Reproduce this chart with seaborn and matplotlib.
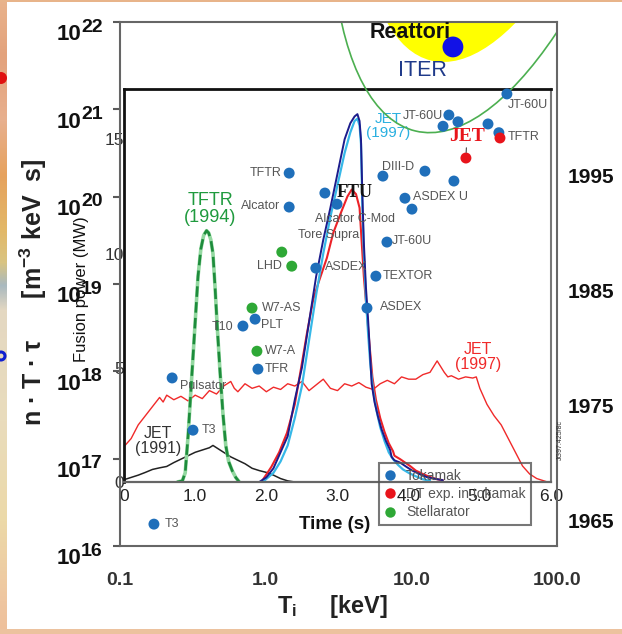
import numpy as np
import pandas as pd
import matplotlib
matplotlib.use("Agg")
import matplotlib.pyplot as plt
import matplotlib.transforms as mtransforms
from matplotlib.patches import Ellipse, Rectangle, Circle
from matplotlib.lines import Line2D
from matplotlib.ticker import NullLocator
import seaborn as sns

# ---------------------------------------------------------------------------
# Lawson diagram: ion temperature Ti (keV) vs triple product n*T*tau (m^-3 keV s)
# ---------------------------------------------------------------------------
tok_ti = [1.45, 1.45, 2.55, 3.09, 2.21, 4.96, 5.71, 6.80, 9.04, 10.1, 6.38, 12.4,
          19.6, 18.1, 16.5, 20.9, 33.6, 39.9, 45.3, 0.228, 0.317, 0.171, 0.698,
          0.846, 0.885]
tok_ntt = [1.86e20, 7.6e19, 1.10e20, 8.2e19, 1.52e19, 5.3e18, 1.23e19, 3.02e19,
           9.6e19, 7.2e19, 1.72e20, 1.96e20, 1.51e20, 8.6e20, 6.4e20, 7.2e20,
           6.8e20, 5.4e20, 1.50e21, 8.4e17, 2.12e17, 1.78e16, 3.3e18, 3.96e18,
           1.06e18]
tok_names = ["TFTR", "Alcator", "FTU", "Alcator C-Mod", "ASDEX", "ASDEX", "TEXTOR",
             "JT-60U", "ASDEX U", "", "DIII-D", "", "", "JT-60U", "", "", "", "",
             "JT-60U", "Pulsator", "T3", "T3", "T10", "PLT", "TFR"]

dt_ti = [40.6, 23.7]
dt_ntt = [4.7e20, 2.77e20]
dt_names = ["TFTR", "JET"]

st_ti = [0.806, 0.871, 1.29, 1.51]
st_ntt = [5.3e18, 1.70e18, 2.32e19, 1.60e19]
st_names = ["W7-AS", "W7-A", "", "LHD"]

iter_ti = [19.3]
iter_ntt = [5.18e21]

kinds = ["Tokamak", "DT exp. in tokamak", "Stellarator"]
x_ticks = [0.1, 1.0, 10.0, 100.0]
x_ticklabels = ["0.1", "1.0", "10.0", "100.0"]
y_exponents = [16, 17, 18, 19, 20, 21, 22]
years = [1965, 1975, 1985, 1995]

# ---------------------------------------------------------------------------
# Fusion power traces (MW) vs time (s)
# ---------------------------------------------------------------------------
tftr94_t = [0.75, 0.82, 0.86, 0.90, 0.95, 1.00, 1.04, 1.08, 1.12, 1.16, 1.19, 1.22,
            1.25, 1.28, 1.31, 1.35, 1.39, 1.43, 1.47, 1.52, 1.57, 1.62]
tftr94_p = [0.0, 0.05, 0.4, 2.0, 4.5, 7.0, 9.0, 10.2, 10.8, 11.0, 10.9, 10.6,
            10.0, 8.5, 6.8, 4.8, 3.0, 1.6, 0.9, 0.5, 0.2, 0.0]

jet91_t = [0.0, 0.1, 0.2, 0.3, 0.4, 0.5, 0.6, 0.7, 0.8, 0.9, 1.0, 1.1, 1.2, 1.25,
           1.3, 1.4, 1.5, 1.6, 1.7, 1.8, 1.9, 2.0, 2.1, 2.2, 2.3, 2.4]
jet91_p = [0.1, 0.2, 0.3, 0.42, 0.55, 0.62, 0.68, 0.85, 1.0, 1.15, 1.3, 1.4, 1.5,
           1.6, 1.5, 1.3, 1.1, 0.95, 0.8, 0.6, 0.5, 0.42, 0.3, 0.15, 0.05, 0.0]

jet97ss_t = [0.0, 0.1, 0.2, 0.3, 0.4, 0.5, 0.55, 0.6, 0.7, 0.8, 0.9, 1.0, 1.1, 1.2,
             1.3, 1.4, 1.5, 1.55, 1.6, 1.7, 1.8, 1.9, 2.0, 2.1, 2.2, 2.3, 2.4, 2.5,
             2.6, 2.7, 2.8, 2.9, 3.0, 3.1, 3.2, 3.3, 3.4, 3.5, 3.6, 3.7, 3.8, 3.9,
             4.0, 4.1, 4.2, 4.3, 4.4, 4.5, 4.55, 4.6, 4.7, 4.8, 4.9, 4.95, 5.0, 5.1,
             5.2, 5.3, 5.4, 5.5, 5.6, 5.7, 5.8, 5.9, 5.95]
jet97ss_p = [1.55, 1.9, 2.5, 2.9, 3.3, 3.7, 3.5, 3.8, 3.6, 3.75, 3.55, 3.8, 3.65,
             4.0, 3.85, 4.2, 4.4, 4.1, 3.95, 4.3, 4.1, 4.2, 3.95, 4.15, 4.05, 4.3,
             4.2, 4.4, 4.0, 4.25, 4.5, 4.1, 4.0, 4.3, 4.2, 4.35, 4.15, 4.05, 4.3,
             4.45, 4.3, 4.6, 4.5, 4.5, 4.7, 4.8, 5.3, 4.8, 4.6, 4.65, 4.5, 4.6,
             4.55, 4.6, 4.1, 3.4, 2.9, 2.5, 1.9, 1.3, 0.7, 0.35, 0.15, 0.05, 0.0]

jet97_navy_t = [1.90, 2.00, 2.10, 2.20, 2.30, 2.40, 2.50, 2.60, 2.70, 2.80, 2.90,
                3.00, 3.10, 3.18, 3.24, 3.28, 3.31, 3.33, 3.35, 3.37, 3.40, 3.43,
                3.45, 3.48, 3.52, 3.57, 3.62, 3.68, 3.74, 3.76, 3.80, 3.88, 3.97,
                4.05, 4.15, 4.25, 4.35, 4.48]
jet97_navy_p = [0.0, 0.2, 0.6, 1.3, 2.0, 3.6, 5.0, 7.0, 9.0, 10.6, 12.0, 13.5,
                15.0, 15.7, 16.0, 16.1, 15.8, 15.0, 12.5, 10.5, 8.5, 7.1, 6.0, 4.3,
                3.5, 2.85, 2.3, 1.8, 1.4, 1.1, 0.95, 0.85, 0.66, 0.5, 0.35, 0.22,
                0.15, 0.08]

jet97_cyan_t = [1.95, 2.1, 2.2, 2.3, 2.4, 2.5, 2.6, 2.7, 2.8, 2.9, 3.0, 3.1, 3.18,
                3.24, 3.28, 3.31, 3.33, 3.35, 3.37, 3.40, 3.43, 3.46, 3.50, 3.55,
                3.60, 3.66, 3.72, 3.78, 3.85, 3.92, 4.0, 4.1, 4.2, 4.3]
jet97_cyan_p = [0.0, 0.4, 0.9, 1.6, 2.8, 4.2, 6.2, 8.2, 10.0, 11.6, 13.0, 14.4,
                15.3, 15.8, 15.9, 15.6, 14.8, 12.0, 10.0, 8.0, 6.5, 5.2, 4.0, 3.1,
                2.4, 1.8, 1.3, 1.0, 0.75, 0.55, 0.4, 0.25, 0.12, 0.05]

jet97_red_t = [1.93, 2.07, 2.18, 2.29, 2.4, 2.5, 2.57, 2.66, 2.73, 2.85, 2.94, 3.05,
               3.14, 3.2, 3.26, 3.31, 3.34, 3.37, 3.41, 3.45, 3.49, 3.54, 3.6, 3.66,
               3.72, 3.78, 3.8, 3.88, 3.95, 4.02, 4.1, 4.2, 4.3, 4.4, 4.48]
jet97_red_p = [0.0, 0.66, 1.3, 2.15, 3.4, 5.2, 6.5, 8.0, 8.7, 9.8, 10.9, 11.8,
               12.5, 12.8, 12.6, 12.0, 10.5, 9.0, 7.5, 6.0, 4.6, 3.6, 2.8, 2.2,
               1.7, 1.35, 1.15, 1.0, 0.85, 0.7, 0.5, 0.35, 0.22, 0.12, 0.08]

time_ticks = [0, 1, 2, 3, 4, 5, 6]
time_ticklabels = ["0", "1.0", "2.0", "3.0", "4.0", "5.0", "6.0"]
power_ticks = [0, 5, 10, 15]

# ---------------------------------------------------------------------------
sns.set_style("white")
plt.rcParams["font.family"] = ["Liberation Sans", "DejaVu Sans"]
plt.rcParams["mathtext.fontset"] = "custom"
plt.rcParams["mathtext.rm"] = "Liberation Sans"
plt.rcParams["mathtext.bf"] = "Liberation Sans:bold"
plt.rcParams["mathtext.it"] = "Liberation Sans:italic"

W_PX, H_PX, DPI = 622, 634, 100
fig = plt.figure(figsize=(W_PX / DPI, H_PX / DPI), dpi=DPI, facecolor="white")


def box(left, top, right, bottom):
    """Axes rectangle from pixel edges measured from the top-left corner."""
    return [left / W_PX, 1 - bottom / H_PX, (right - left) / W_PX, (bottom - top) / H_PX]


# slide frame: coloured strip on the left and thin bands top/bottom
strip_stops = [(0, "#e9b38c"), (55, "#e3a27c"), (120, "#e8b08e"), (175, "#e6a25e"),
               (230, "#e2b868"), (262, "#d9c482"), (285, "#a9b9bf"), (310, "#e4d8c2"),
               (420, "#e9dcbc"), (520, "#ecd9a8"), (600, "#efc6a0"), (634, "#eebf9a")]
rows = np.arange(H_PX)
stop_y = [s[0] for s in strip_stops]
stop_rgb = np.array([matplotlib.colors.to_rgb(s[1]) for s in strip_stops])
grad = np.stack([np.interp(rows, stop_y, stop_rgb[:, c]) for c in range(3)], axis=1)
ax_strip = fig.add_axes(box(0, 0, 7, 634))
ax_strip.imshow(grad[:, None, :], aspect="auto")
ax_strip.axis("off")
fig.add_artist(Rectangle((0, H_PX - 2), W_PX, 2, transform=mtransforms.IdentityTransform(),
                         color="#e8b48a", lw=0))
fig.add_artist(Rectangle((0, 0), W_PX, 5, transform=mtransforms.IdentityTransform(),
                         color="#ecc29e", lw=0))
fig.add_artist(Circle((1, H_PX - 78), 6, transform=mtransforms.IdentityTransform(),
                      color="#e01010", lw=0))
fig.add_artist(Circle((1, H_PX - 356), 4, transform=mtransforms.IdentityTransform(),
                      facecolor="none", edgecolor="#1020d0", lw=2.2))

# ---------------------------------------------------------------------------
# inner panel: fusion power traces
# ---------------------------------------------------------------------------
ax_in = fig.add_axes(box(124, 89, 551, 482), zorder=2)
ax_in.patch.set_alpha(0)

sns.lineplot(x=jet97ss_t, y=jet97ss_p, sort=False, estimator=None, ax=ax_in,
             color="#f02a2a", lw=1.0)
sns.lineplot(x=jet91_t, y=jet91_p, sort=False, estimator=None, ax=ax_in,
             color="#222222", lw=1.1)
sns.lineplot(x=tftr94_t, y=tftr94_p, sort=False, estimator=None, ax=ax_in,
             color="#93d8a0", lw=2.6)
sns.lineplot(x=tftr94_t, y=tftr94_p, sort=False, estimator=None, ax=ax_in,
             color="#1e8c3c", lw=1.9, ls=(0, (4, 2)))
sns.lineplot(x=jet97_red_t, y=jet97_red_p, sort=False, estimator=None, ax=ax_in,
             color="#ec2228", lw=1.5)
sns.lineplot(x=jet97_cyan_t, y=jet97_cyan_p, sort=False, estimator=None, ax=ax_in,
             color="#36b8e8", lw=1.6)
sns.lineplot(x=jet97_navy_t, y=jet97_navy_p, sort=False, estimator=None, ax=ax_in,
             color="#1c1c8c", lw=1.4)

ax_in.set_xlim(0, 6)
ax_in.set_ylim(0, 17.2)
ax_in.set_xticks(time_ticks)
ax_in.set_xticklabels(time_ticklabels)
ax_in.set_yticks(power_ticks)
ax_in.tick_params(axis="x", direction="in", length=6, width=1.4, color="#444444",
                  labelsize=12.5, labelcolor="#222222", pad=5)
ax_in.tick_params(axis="y", direction="in", length=7, width=1.4, color="#555555",
                  labelsize=12.5, labelcolor="#333333", pad=0)
for side, col, lw in [("left", "#111111", 2.0), ("top", "#111111", 2.0),
                      ("right", "#777777", 1.5), ("bottom", "#666666", 1.6)]:
    ax_in.spines[side].set_visible(True)
    ax_in.spines[side].set_color(col)
    ax_in.spines[side].set_linewidth(lw)
ax_in.set_xlabel("Time (s)", fontsize=13.5, fontweight="bold", color="#111111")
ax_in.xaxis.set_label_coords(0.494, -0.109)
ax_in.xaxis.label.set_va("center")
ax_in.set_ylabel("Fusion power (MW)", fontsize=12, color="#111111")
ax_in.yaxis.set_label_coords(-0.1007, 0.491)
ax_in.yaxis.label.set_va("center")

ax_in.text(1.21, 11.95, "TFTR\n(1994)", color="#1f9a3e", fontsize=13, ha="center",
           va="center", linespacing=1.05)
ax_in.text(0.48, 1.78, "JET\n(1991)", color="#333333", fontsize=11.5, ha="center",
           va="center", linespacing=1.0)
ax_in.text(4.97, 5.48, "JET\n(1997)", color="#f02a2a", fontsize=11.5, ha="center",
           va="center", linespacing=1.0)
ax_in.text(3.71, 15.6, "JET\n(1997)", color="#2ab0e0", fontsize=11, ha="center",
           va="center", linespacing=1.0)

# ---------------------------------------------------------------------------
# outer panel: Lawson diagram
# ---------------------------------------------------------------------------
ax = fig.add_axes(box(120, 22, 557, 546), zorder=3)
ax.patch.set_alpha(0)
ax.set_xscale("log")
ax.set_yscale("log")

# reactor region (drawn in pixel units measured from the axes' lower-left corner)
ax_w, ax_h = 437, 524
px_tf = mtransforms.Affine2D().scale(1 / ax_w, 1 / ax_h) + ax.transAxes
ax.add_patch(Ellipse((398.6, 850.1), 750.0, 278.0, angle=76.5, transform=px_tf,
                     facecolor="#ffff00", edgecolor="none", zorder=1))
ax.add_patch(Ellipse((397, 838), 870, 322, angle=76.5, transform=px_tf,
                     facecolor="none", edgecolor="#4caf50", lw=1.2, zorder=2))

frames = []
for k, xs, ys, ns in [(kinds[0], tok_ti, tok_ntt, tok_names),
                      (kinds[1], dt_ti, dt_ntt, dt_names),
                      (kinds[2], st_ti, st_ntt, st_names)]:
    frames.append(pd.DataFrame({"Ti": xs, "ntt": ys, "name": ns, "kind": k}))
df = pd.concat(frames, ignore_index=True)
palette = {kinds[0]: "#1f6fba", kinds[1]: "#e8141b", kinds[2]: "#2ea836"}
sns.scatterplot(data=df, x="Ti", y="ntt", hue="kind", palette=palette, s=62,
                edgecolor="none", legend=False, ax=ax, zorder=4)
sns.scatterplot(x=iter_ti, y=iter_ntt, s=225, color="#1212e6", edgecolor="none",
                ax=ax, zorder=4)

ax.text(9.77, 7.68e21, "Reattori", fontsize=15.5, fontweight="bold", color="#111111",
        ha="center", va="center", zorder=5)
ax.text(12.0, 2.82e21, "ITER", fontsize=15.5, color="#1f3a8a", ha="center",
        va="center", zorder=5)

# device labels: (kind, index into that kind, text, dx px, dy px, ha)
gray = "#555555"
label_specs = [
    (0, 0, "TFTR", -8, 0, "right"), (0, 1, "Alcator", -9, 1, "right"),
    (0, 3, "Alcator C-Mod", 18, -15, "center"), (0, 3, "Tore Supra", -8, -31, "center"),
    (0, 4, "ASDEX", 9, 1, "left"), (0, 5, "ASDEX", 13, 1, "left"),
    (0, 6, "TEXTOR", 7, 0, "left"), (0, 7, "JT-60U", 5, 1, "left"),
    (0, 8, "ASDEX U", 8, 1, "left"), (0, 10, "DIII-D", 15, 9, "center"),
    (0, 13, "JT-60U", -6, -1, "right"), (0, 18, "JT-60U", 21, -11, "center"),
    (0, 19, "Pulsator", 8, -8, "left"), (0, 20, "T3", 9, 0, "left"),
    (0, 21, "T3", 11, 0, "left"), (0, 22, "T10", -10, -1, "right"),
    (0, 23, "PLT", 6, -6, "left"), (0, 24, "TFR", 7, 0, "left"),
    (1, 0, "TFTR", 8, 1, "left"),
    (2, 0, "W7-AS", 10, 0, "left"), (2, 1, "W7-A", 8, 0, "left"),
    (2, 3, "LHD", -10, 0, "right"),
]
series = [(tok_ti, tok_ntt), (dt_ti, dt_ntt), (st_ti, st_ntt)]
for ki, idx, txt, dx, dy, ha in label_specs:
    xs, ys = series[ki]
    ax.annotate(txt, (xs[idx], ys[idx]), xytext=(dx, dy), textcoords="offset pixels",
                ha=ha, va="center", fontsize=9, color=gray, zorder=5)
ax.annotate("FTU", (tok_ti[2], tok_ntt[2]), xytext=(12, 1), textcoords="offset pixels",
            ha="left", va="center", fontsize=13, fontweight="bold",
            family=["Liberation Serif", "DejaVu Serif"], color="#111111", zorder=5)
ax.annotate("JET", (dt_ti[1], dt_ntt[1]), xytext=(1, 22), textcoords="offset pixels",
            ha="center", va="center", fontsize=14, fontweight="bold",
            family=["Liberation Serif", "DejaVu Serif"], color="#e8141b", zorder=5,
            arrowprops=dict(arrowstyle="-", color="#444444", lw=0.8, shrinkA=0, shrinkB=4))

ax.set_xlim(0.1, 100)
ax.set_ylim(1e16, 1e22)
ax.set_xticks(x_ticks)
ax.set_xticklabels(x_ticklabels)
ax.xaxis.set_minor_locator(NullLocator())
ax.set_yticks([10.0 ** e for e in y_exponents])
ax.set_yticklabels([""] * len(y_exponents))
ax.yaxis.set_minor_locator(NullLocator())
ax.tick_params(axis="both", direction="out", length=5, width=1.5, color="#5a5a5a")
ax.tick_params(axis="x", labelsize=14, labelcolor="#333333", pad=13.5)
for lab in ax.get_xticklabels():
    lab.set_fontweight("bold")
for side in ["left", "right", "top", "bottom"]:
    ax.spines[side].set_visible(True)
    ax.spines[side].set_color("#666666")
    ax.spines[side].set_linewidth(1.5)

base_tf = mtransforms.offset_copy(ax.get_yaxis_transform(), fig=fig, x=-39, y=-13,
                                  units="dots")
exp_tf = mtransforms.offset_copy(ax.get_yaxis_transform(), fig=fig, x=-39, y=-5,
                                 units="dots")
for e in y_exponents:
    ax.text(0, 10.0 ** e, "10", transform=base_tf, ha="right", va="center",
            fontsize=16, fontweight="bold", color="#111111")
    ax.text(0, 10.0 ** e, str(e), transform=exp_tf, ha="left", va="center",
            fontsize=14, fontweight="bold", color="#111111")

ax.set_xlabel(r"$\mathbf{T_i}$     [keV]", fontsize=17, fontweight="bold", color="#222222")
ax.xaxis.set_label_coords(0.486, -0.116)
ax.xaxis.label.set_va("center")
ax.set_ylabel(r"n · T · τ      [m$^{\mathbf{-3}}$ keV  s]", fontsize=18,
              fontweight="bold", color="#222222")
ax.yaxis.set_label_coords(-0.199, 0.485)
ax.yaxis.label.set_va("center")

handles = [Line2D([], [], ls="none", marker="o", markersize=7.5, markeredgewidth=0,
                  color=palette[k]) for k in kinds]
leg = ax.legend(handles, kinds, loc="lower left", bbox_to_anchor=(0.5927, 0.0401),
                borderaxespad=0, frameon=True, fancybox=False, fontsize=10,
                handlelength=0.8, handletextpad=0.75, labelspacing=0.32, borderpad=0.4,
                labelcolor="#555555")
leg.get_frame().set_edgecolor("#555555")
leg.get_frame().set_linewidth(1.5)
leg.get_frame().set_facecolor("none")
leg.set_zorder(6)

# year scale on the right-hand side
ax_year = ax.twinx()
ax_year.patch.set_alpha(0)
ax_year.set_ylim(1962.8, 2008.3)
ax_year.set_yticks(years)
ax_year.set_yticklabels([str(y) for y in years])
ax_year.tick_params(axis="y", length=0, pad=7.5, labelsize=15)
for lab in ax_year.get_yticklabels():
    lab.set_fontweight("bold")
    lab.set_color("#111111")
for side in ["left", "right", "top", "bottom"]:
    ax_year.spines[side].set_visible(False)

fig.text(560 / W_PX, 1 - 440 / H_PX, "JG97.425/8c", rotation=90, fontsize=5,
         ha="center", va="center", color="#333333")

fig.savefig("out.png", dpi=DPI)
